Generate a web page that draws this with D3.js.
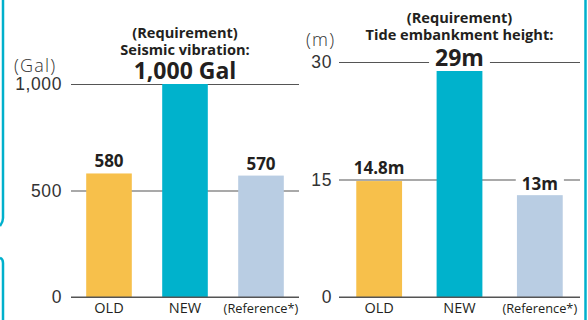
<!DOCTYPE html>
<html>
<head>
<meta charset="utf-8">
<script src="https://cdn.jsdelivr.net/npm/d3@7"></script>
<style>
  html, body { margin: 0; padding: 0; background: #fff; }
  svg { display: block; font-family: "Open Sans", "Noto Sans", sans-serif; }
</style>
</head>
<body>
<svg id="chart" width="588" height="320"></svg>
<script>
// Categories shared by both panels
const categories = ["OLD", "NEW", "(Reference*)"];

// Seismic vibration (Gal)
const seismicValues = [580, 1000, 570];
const seismicLabels = ["580", "1,000 Gal", "570"];
const seismicTicks = [0, 500, 1000];

// Tide embankment height (m)
const tideValues = [14.8, 29, 13];
const tideLabels = ["14.8m", "29m", "13m"];
const tideTicks = [0, 15, 30];

const barColors = ["#f7c04b", "#00b2cc", "#b9cde3"];
const ink = "#231f20";
const gridColor = "#555";

const svg = d3.select("#chart");

// Frame: teal rule on the left (with a notch) and on the right
const frame = svg.append("g").attr("fill", "none").attr("stroke", "#00b0cc").attr("stroke-width", 2.5);
frame.append("path").attr("d", "M3,0 L3,218 Q3,222 0,226");
frame.append("path").attr("d", "M0,258 Q3,259 3,263 L3,320");
frame.append("line").attr("x1", 585.5).attr("x2", 585.5).attr("y1", 0).attr("y2", 320);

function panel(cfg) {
  const g = svg.append("g");
  const x = d3.scaleBand().domain(categories).range(cfg.xRange)
    .paddingInner(cfg.padIn).paddingOuter(cfg.padOut);
  const y = d3.scaleLinear().domain(cfg.domain).range([297, cfg.top]);

  // gridlines + tick labels
  const axis = d3.axisLeft(y).tickValues(cfg.ticks).tickFormat(d3.format(","))
    .tickSize(-(cfg.xRange[1] - cfg.xRange[0])).tickPadding(cfg.tickPad);
  const ax = g.append("g").attr("transform", `translate(${cfg.xRange[0]},0)`).call(axis);
  ax.select(".domain").remove();
  ax.selectAll(".tick line").attr("stroke", gridColor).attr("stroke-width", 1.2);
  ax.selectAll(".tick text").attr("fill", "#333").attr("font-size", 17.5)
    .attr("font-weight", 300).attr("letter-spacing", 0.6);

  // unit label
  g.append("text").attr("x", cfg.unitX).attr("y", cfg.unitY)
    .attr("fill", "#333").attr("font-size", 18).attr("font-weight", 300)
    .attr("letter-spacing", 1.2).text(cfg.unit);

  // bars
  g.selectAll("rect.bar").data(cfg.values).join("rect").attr("class", "bar")
    .attr("x", (d, i) => x(categories[i]))
    .attr("width", x.bandwidth())
    .attr("y", d => y(d))
    .attr("height", d => y(0) - y(d))
    .attr("fill", (d, i) => barColors[i]);

  // baseline on top of bars
  g.append("line").attr("x1", cfg.xRange[0]).attr("x2", cfg.xRange[1])
    .attr("y1", y(0)).attr("y2", y(0)).attr("stroke", gridColor).attr("stroke-width", 1.2);

  // category labels
  g.selectAll("text.cat").data(categories).join("text").attr("class", "cat")
    .attr("x", d => x(d) + x.bandwidth() / 2).attr("y", 313)
    .attr("text-anchor", "middle").attr("fill", ink)
    .attr("font-size", (d, i) => i === 2 ? 12.8 : 14.5)
    .text(d => d);

  // title above the NEW bar
  const cx = x(categories[1]) + x.bandwidth() / 2;
  cfg.title.forEach((t, i) => {
    g.append("text").attr("x", cx).attr("y", cfg.titleY[i]).attr("text-anchor", "middle")
      .attr("fill", ink).attr("font-size", 14.6).attr("font-weight", 700).text(t);
  });

  // value labels
  cfg.values.forEach((v, i) => {
    const isNew = i === 1;
    const lx = x(categories[i]) + x.bandwidth() / 2;
    const ly = isNew ? cfg.newLabelY : y(v) - cfg.labelGap[i];
    const t = g.append("text").attr("x", lx).attr("y", ly).attr("text-anchor", "middle")
      .attr("fill", ink).attr("font-weight", 700)
      .attr("font-size", isNew ? 23 : 17).text(cfg.labels[i]);
    if (cfg.knockout && cfg.knockout[i]) {
      const b = t.node().getBBox();
      g.insert("rect", () => t.node())
        .attr("x", b.x - 6).attr("y", b.y + 2).attr("width", b.width + 12).attr("height", b.height - 4)
        .attr("fill", "#fff");
    }
  });
}

panel({
  xRange: [71, 299], padIn: 0.4, padOut: 0.2,
  domain: [0, 1000], top: 84, ticks: seismicTicks, tickPad: 9,
  values: seismicValues, labels: seismicLabels,
  unit: "(Gal)", unitX: 14, unitY: 72,
  title: ["(Requirement)", "Seismic vibration:"], titleY: [38, 55],
  newLabelY: 79, labelGap: [6, 0, 6]
});

panel({
  xRange: [339, 580], padIn: 0.43, padOut: 0.215,
  domain: [0, 30], top: 62, ticks: tideTicks, tickPad: 7,
  values: tideValues, labels: tideLabels,
  unit: "(m)", unitX: 306, unitY: 46,
  title: ["(Requirement)", "Tide embankment height:"], titleY: [23, 40],
  newLabelY: 66, labelGap: [7, 0, 5],
  knockout: [false, true, true]
});
</script>
</body>
</html>
